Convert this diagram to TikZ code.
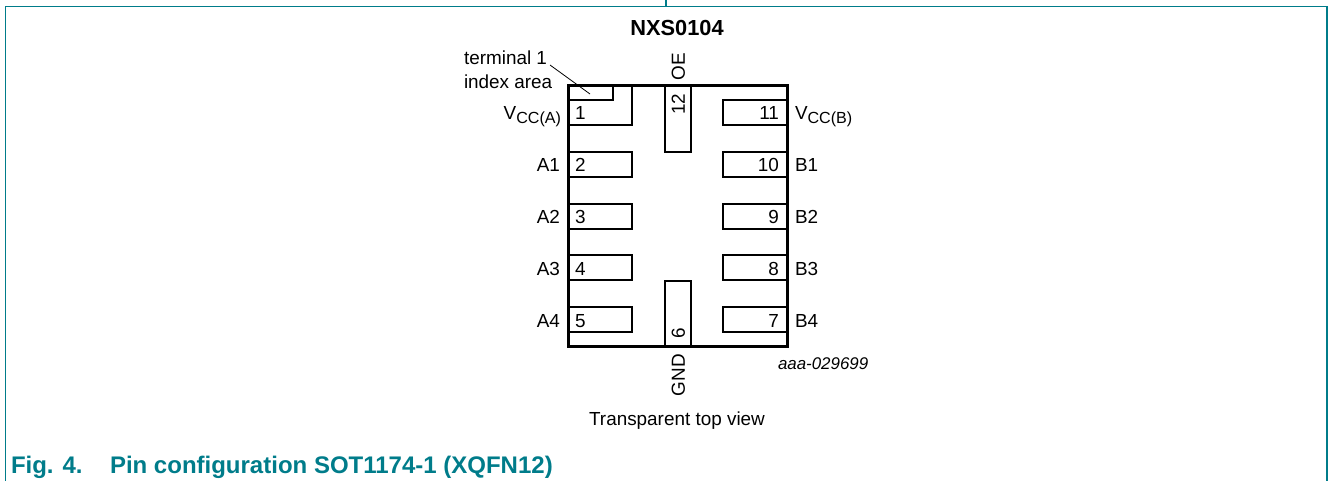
\documentclass[tikz,border=0pt]{standalone}
\usepackage{fontspec}
\setmainfont{Liberation Sans}
\definecolor{nxpteal}{HTML}{007C8A}
\definecolor{captionteal}{HTML}{007C8A}
\newcommand{\pxfont}{\fontsize{18.9}{22}\selectfont}
\newcommand{\subtxt}[1]{\raisebox{-4pt}{\fontsize{16.1}{20}\selectfont #1}}
\tikzset{
  frameline/.style={draw=nxpteal,line width=1.4pt},
  chipbody/.style={draw=black,line width=3pt,line join=miter},
  padbox/.style={draw=black,line width=1.4pt},
  lbl/.style={font=\pxfont,text=black,inner sep=0pt,outer sep=0pt},
  leader/.style={draw=black,line width=0.8pt}
}
\begin{document}
\begin{tikzpicture}[x=1pt,y=-1pt]
\useasboundingbox (0,0) rectangle (1328,481);
% frame
\draw[frameline] (5.5,481) -- (5.5,6.5) -- (1326.8,6.5) -- (1326.8,481);
\draw[frameline] (665.8,0) -- (665.8,6.5);
% pads
\draw[padbox] (568,86) rectangle (632,125);
\draw[padbox] (568,86) rectangle (613,100);
\foreach \y in {152,204,255,307}{
  \draw[padbox] (568,\y) rectangle (632,\y+25);
}
\draw[padbox] (787,100) rectangle (723,125);
\foreach \y in {152,204,255,307}{
  \draw[padbox] (787,\y) rectangle (723,\y+25);
}
\draw[padbox] (665,86) rectangle (691,152);
\draw[padbox] (665,281) rectangle (691,346);
% body
\draw[chipbody] (568,86) rectangle (787,346);
% texts
\node[lbl,font=\fontsize{21.8}{26}\selectfont\bfseries] (title) at (677,28) {NXS0104};
\node[lbl,anchor=base west] (term1) at (464,65) {terminal 1};
\node[lbl,anchor=base west] (term2) at (464,89) {index area};
\coordinate (idx) at (590,94);
\coordinate (leadstart) at (550,65);
\draw[leader] (leadstart) -- (idx);
\node[lbl,rotate=90] (oe) at (678.3,67) {OE};
\node[lbl,rotate=90] (gnd) at (678.3,375) {GND};
\node[lbl,rotate=90] (p12) at (678.3,104) {12};
\node[lbl,rotate=90] (p6) at (678.3,333) {6};
% left numbers
\node[lbl,anchor=base west] (p1) at (575,120) {1};
\node[lbl,anchor=base west] (p2) at (575,172) {2};
\node[lbl,anchor=base west] (p3) at (575,224) {3};
\node[lbl,anchor=base west] (p4) at (575,275) {4};
\node[lbl,anchor=base west] (p5) at (575,327) {5};
% right numbers
\node[lbl,anchor=base east] (p11) at (779,120) {11};
\node[lbl,anchor=base east] (p10) at (779,172) {10};
\node[lbl,anchor=base east] (p9) at (779,224) {9};
\node[lbl,anchor=base east] (p8) at (779,275) {8};
\node[lbl,anchor=base east] (p7) at (779,327) {7};
% left names
\node[lbl,anchor=base east] (vcca) at (561,120) {V\subtxt{CC(A)}};
\node[lbl,anchor=base east] (a1) at (560,172) {A1};
\node[lbl,anchor=base east] (a2) at (560,224) {A2};
\node[lbl,anchor=base east] (a3) at (560,275) {A3};
\node[lbl,anchor=base east] (a4) at (560,327) {A4};
% right names
\node[lbl,anchor=base west] (vccb) at (795,120) {V\subtxt{CC(B)}};
\node[lbl,anchor=base west] (b1) at (795,172) {B1};
\node[lbl,anchor=base west] (b2) at (795,224) {B2};
\node[lbl,anchor=base west] (b3) at (795,275) {B3};
\node[lbl,anchor=base west] (b4) at (795,327) {B4};
% misc
\node[lbl,font=\fontsize{16.9}{20}\selectfont\itshape,anchor=base west] (code) at (778,369) {aaa-029699};
\node[lbl,anchor=base] (view) at (677,425) {Transparent top view};
\node[lbl,font=\fontsize{24}{28}\selectfont\bfseries,text=captionteal,anchor=base west] (figno) at (11,473) {Fig. 4.};
\node[lbl,font=\fontsize{24}{28}\selectfont\bfseries,text=captionteal,anchor=base west] (figcap) at (110,473) {Pin configuration SOT1174-1 (XQFN12)};
\end{tikzpicture}
\end{document}
